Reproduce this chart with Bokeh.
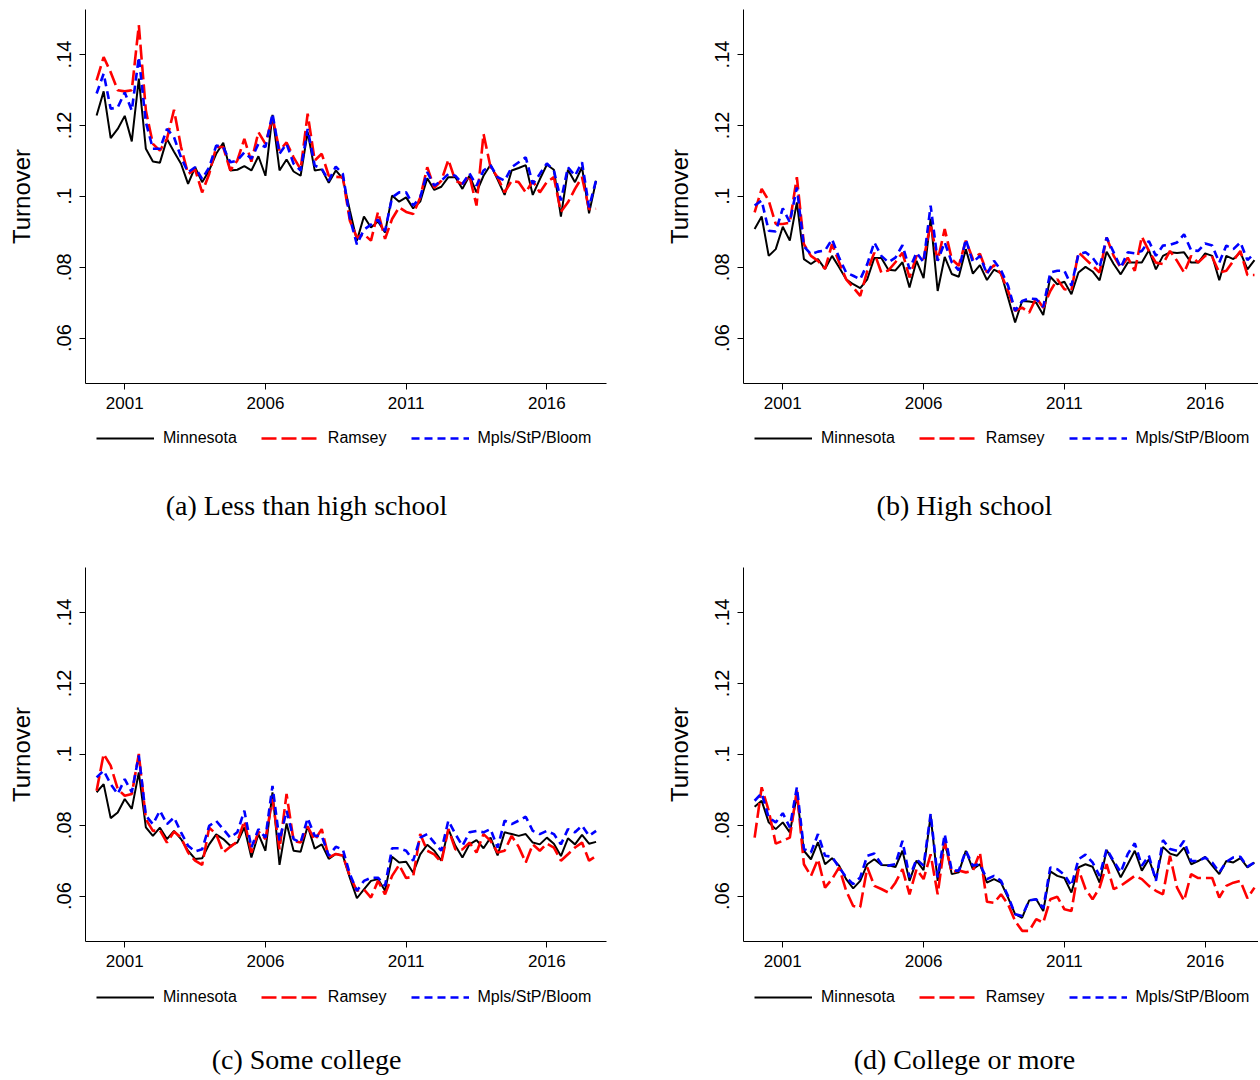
from bokeh.plotting import figure
from bokeh.models import FixedTicker, Legend, LegendItem, Label, Range1d
from bokeh.layouts import column, row
from bokeh.embed import file_html
from bokeh.resources import INLINE

# ---------------- data ----------------
YEARS = list(range(2000, 2018))
QUARTERS = [1, 2, 3, 4]
TIME = [y + (q - 1) / 4 for y in YEARS for q in QUARTERS]  # 2000q1 .. 2017q4

X_TICKS = [2001, 2006, 2011, 2016]
X_TICK_LABELS = ["2001", "2006", "2011", "2016"]
Y_TICKS = [0.06, 0.08, 0.10, 0.12, 0.14]
Y_TICK_LABELS = [".06", ".08", ".1", ".12", ".14"]

SERIES_NAMES = ["Minnesota", "Ramsey", "Mpls/StP/Bloom"]
CAPTIONS = ["(a) Less than high school", "(b) High school",
            "(c) Some college", "(d) College or more"]

lths_minnesota = [.1228, .1296, .1164, .1190, .1227, .1155, .1332, .1134, .1098, .1095, .1162, .1126,
                  .1092, .1035, .1082, .1040, .1073, .1120, .1151, .1073, .1075, .1085, .1073, .1113,
                  .1058, .1230, .1073, .1104, .1070, .1058, .1181, .1073, .1076, .1038, .1073, .1050,
                  .0960, .0875, .0943, .0912, .0929, .0898, .1002, .0985, .0997, .0966, .0985, .1051,
                  .1018, .1027, .1054, .1054, .1021, .1058, .1011, .1058, .1089, .1047, .1004, .1073,
                  .1080, .1088, .1004, .1048, .1089, .1075, .0943, .1075, .1040, .1082, .0952, .1044]
lths_ramsey = [.1327, .1393, .1350, .1299, .1296, .1299, .1483, .1242, .1148, .1129, .1162, .1244,
               .1139, .1063, .1076, .1011, .1063, .1139, .1139, .1073, .1101, .1162, .1098, .1181,
               .1148, .1223, .1129, .1152, .1110, .1076, .1233, .1101, .1120, .1058, .1055, .1054,
               .0931, .0884, .0893, .0875, .0956, .0880, .0936, .0969, .0956, .0950, .0997, .1082,
               .1024, .1044, .1103, .1044, .1035, .1058, .0974, .1176, .1082, .1054, .1011, .1044,
               .1040, .1011, .1044, .1011, .1040, .1054, .0956, .0983, .1021, .1054, .0964, .0965]
lths_msp = [.1290, .1346, .1247, .1251, .1293, .1242, .1393, .1209, .1134, .1134, .1190, .1167,
            .1110, .1068, .1082, .1049, .1082, .1143, .1139, .1096, .1101, .1124, .1106, .1148,
            .1139, .1233, .1120, .1148, .1092, .1073, .1190, .1087, .1078, .1044, .1084, .1063,
            .0939, .0864, .0906, .0920, .0934, .0902, .0997, .1011, .1011, .0974, .0997, .1068,
            .1030, .1044, .1063, .1058, .1035, .1065, .1030, .1073, .1087, .1054, .1044, .1082,
            .1096, .1110, .1035, .1063, .1093, .1073, .0988, .1082, .1058, .1096, .0969, .1046]

hs_minnesota = [.0908, .0943, .0832, .0851, .0914, .0875, .0983, .0823, .0809, .0823, .0795, .0832,
                .0800, .0766, .0752, .0741, .0766, .0826, .0826, .0793, .0791, .0814, .0743, .0818,
                .0769, .0937, .0733, .0829, .0781, .0773, .0851, .0782, .0806, .0764, .0793, .0783,
                .0714, .0644, .0705, .0703, .0700, .0665, .0773, .0752, .0759, .0724, .0785, .0801,
                .0788, .0763, .0844, .0809, .0780, .0813, .0813, .0813, .0848, .0794, .0832, .0842,
                .0840, .0842, .0813, .0813, .0839, .0832, .0763, .0832, .0823, .0842, .0794, .0820]
hs_ramsey = [.0955, .1021, .0988, .0922, .0922, .0926, .1054, .0865, .0832, .0818, .0795, .0865,
             .0814, .0766, .0743, .0719, .0789, .0841, .0785, .0791, .0814, .0841, .0771, .0832,
             .0823, .0922, .0818, .0908, .0823, .0804, .0875, .0823, .0838, .0785, .0806, .0781,
             .0733, .0677, .0686, .0672, .0714, .0686, .0733, .0766, .0738, .0735, .0842, .0823,
             .0804, .0785, .0884, .0832, .0799, .0827, .0790, .0886, .0846, .0813, .0809, .0846,
             .0818, .0785, .0832, .0813, .0832, .0829, .0785, .0790, .0818, .0846, .0778, .0778]
hs_msp = [.0974, .0988, .0903, .0901, .0966, .0927, .1025, .0859, .0837, .0844, .0847, .0879,
          .0827, .0785, .0776, .0766, .0809, .0870, .0832, .0814, .0827, .0862, .0795, .0841,
          .0814, .0974, .0818, .0870, .0814, .0791, .0879, .0814, .0832, .0781, .0818, .0791,
          .0748, .0677, .0705, .0712, .0710, .0688, .0785, .0790, .0790, .0748, .0837, .0842,
          .0827, .0799, .0884, .0842, .0799, .0842, .0839, .0846, .0874, .0832, .0861, .0863,
          .0870, .0893, .0848, .0846, .0867, .0861, .0813, .0861, .0851, .0870, .0820, .0839]

sc_minnesota = [.0893, .0916, .0820, .0836, .0874, .0846, .0949, .0794, .0770, .0793, .0761, .0784,
                .0761, .0728, .0705, .0707, .0746, .0774, .0761, .0742, .0751, .0794, .0709, .0775,
                .0728, .0893, .0688, .0805, .0728, .0725, .0798, .0734, .0746, .0705, .0719, .0715,
                .0651, .0594, .0619, .0643, .0648, .0615, .0711, .0695, .0697, .0666, .0718, .0745,
                .0728, .0700, .0789, .0742, .0709, .0746, .0758, .0735, .0765, .0715, .0780, .0775,
                .0770, .0775, .0751, .0746, .0765, .0748, .0713, .0763, .0746, .0773, .0748, .0753]
sc_ramsey = [.0897, .1001, .0968, .0902, .0883, .0888, .1001, .0817, .0784, .0786, .0751, .0782,
             .0765, .0723, .0700, .0688, .0793, .0775, .0723, .0739, .0754, .0812, .0723, .0782,
             .0761, .0874, .0732, .0888, .0756, .0751, .0796, .0758, .0789, .0709, .0719, .0714,
             .0657, .0615, .0619, .0596, .0643, .0605, .0657, .0688, .0651, .0655, .0775, .0728,
             .0718, .0695, .0789, .0732, .0732, .0751, .0723, .0775, .0756, .0723, .0728, .0770,
             .0739, .0695, .0746, .0728, .0748, .0737, .0700, .0718, .0737, .0751, .0700, .0713]
sc_msp = [.0935, .0954, .0916, .0888, .0930, .0893, .0997, .0827, .0803, .0841, .0803, .0822,
          .0780, .0742, .0726, .0732, .0798, .0812, .0789, .0765, .0780, .0841, .0737, .0789,
          .0765, .0911, .0756, .0841, .0761, .0751, .0820, .0770, .0770, .0714, .0739, .0732,
          .0662, .0615, .0643, .0652, .0652, .0629, .0735, .0735, .0728, .0700, .0765, .0775,
          .0751, .0728, .0813, .0775, .0742, .0780, .0784, .0780, .0789, .0737, .0813, .0803,
          .0813, .0824, .0784, .0775, .0784, .0775, .0746, .0789, .0780, .0799, .0770, .0784]

col_minnesota = [.0852, .0869, .0808, .0789, .0808, .0780, .0883, .0728, .0704, .0752, .0690, .0707,
                 .0686, .0648, .0622, .0643, .0690, .0704, .0688, .0687, .0682, .0728, .0643, .0700,
                 .0673, .0827, .0643, .0756, .0662, .0667, .0728, .0676, .0690, .0638, .0648, .0638,
                 .0596, .0549, .0539, .0588, .0591, .0558, .0670, .0657, .0651, .0610, .0681, .0690,
                 .0683, .0638, .0730, .0695, .0653, .0690, .0728, .0672, .0704, .0648, .0739, .0720,
                 .0714, .0737, .0690, .0699, .0711, .0686, .0662, .0699, .0695, .0707, .0681, .0695]
col_ramsey = [.0765, .0907, .0841, .0748, .0756, .0765, .0898, .0690, .0657, .0704, .0624, .0648,
              .0681, .0615, .0572, .0569, .0681, .0629, .0620, .0610, .0638, .0676, .0605, .0676,
              .0648, .0718, .0605, .0752, .0667, .0672, .0667, .0672, .0723, .0584, .0581, .0605,
              .0577, .0530, .0502, .0502, .0535, .0525, .0591, .0598, .0563, .0558, .0676, .0620,
              .0591, .0624, .0690, .0620, .0629, .0643, .0657, .0648, .0629, .0615, .0605, .0714,
              .0624, .0587, .0662, .0651, .0651, .0651, .0596, .0629, .0638, .0643, .0594, .0624]
col_msp = [.0869, .0890, .0822, .0808, .0834, .0794, .0907, .0733, .0723, .0775, .0714, .0711,
           .0681, .0653, .0634, .0653, .0714, .0720, .0690, .0686, .0690, .0756, .0653, .0704,
           .0686, .0832, .0653, .0775, .0672, .0672, .0728, .0686, .0690, .0648, .0657, .0643,
           .0600, .0549, .0544, .0588, .0591, .0566, .0681, .0676, .0660, .0629, .0704, .0717,
           .0695, .0657, .0733, .0699, .0667, .0719, .0749, .0686, .0714, .0643, .0758, .0733,
           .0728, .0756, .0699, .0699, .0709, .0695, .0667, .0697, .0709, .0711, .0683, .0695]

# ---------------- styling ----------------
SANS = "Liberation Sans"
SERIF = "Liberation Serif"
Y_MIN, Y_MAX = 0.0472, 0.1527
X_START = 1999.605
FRAME_H = 374
MAIN_H = 417          # 9 top border + 374 frame + 34 axis area
BORDER_TOP = 9
BORDER_LEFT = 85

STYLES = [dict(line_color="black", line_width=2),
          dict(line_color="#ff0000", line_width=2.6, line_dash="15 5"),
          dict(line_color="#0000ff", line_width=2.6, line_dash="8 5")]


def make_main(series, x_end, width, mb_right):
    p = figure(width=width, height=MAIN_H, output_backend="svg", toolbar_location=None,
               x_range=Range1d(X_START, x_end), y_range=Range1d(Y_MIN, Y_MAX),
               min_border_left=BORDER_LEFT, min_border_right=mb_right,
               min_border_top=BORDER_TOP, min_border_bottom=MAIN_H - BORDER_TOP - FRAME_H)
    p.outline_line_color = None
    p.xgrid.visible = False
    p.ygrid.visible = False
    p.background_fill_color = "white"
    p.border_fill_color = "white"

    for vals, st in zip(series, STYLES):
        p.line(TIME, vals, **st)

    xa = p.xaxis[0]
    xa.ticker = FixedTicker(ticks=X_TICKS)
    xa.major_label_overrides = dict(zip(X_TICKS, X_TICK_LABELS))
    xa.major_tick_out = 6
    xa.major_tick_in = 0
    xa.minor_tick_out = 0
    xa.minor_tick_in = 0
    xa.major_label_standoff = 7
    xa.major_label_text_font = SANS
    xa.major_label_text_font_size = "17px"
    xa.major_label_text_color = "black"
    xa.axis_line_color = "black"
    xa.major_tick_line_color = "black"

    ya = p.yaxis[0]
    ya.ticker = FixedTicker(ticks=Y_TICKS)
    ya.major_label_overrides = dict(zip(Y_TICKS, Y_TICK_LABELS))
    ya.major_label_orientation = "vertical"
    ya.major_tick_out = 6
    ya.major_tick_in = 0
    ya.minor_tick_out = 0
    ya.minor_tick_in = 0
    ya.major_label_standoff = 8
    ya.major_label_text_font = SANS
    ya.major_label_text_font_size = "20px"
    ya.major_label_text_color = "black"
    ya.axis_line_color = "black"
    ya.major_tick_line_color = "black"
    ya.axis_label = "Turnover"
    ya.axis_label_text_font = SANS
    ya.axis_label_text_font_size = "24px"
    ya.axis_label_text_font_style = "normal"
    ya.axis_label_text_color = "black"
    ya.axis_label_standoff = 20
    return p


def make_footer(series, caption, width, height, legend_y, caption_y):
    # the layout aligns this frame with the plot frame above it
    f = figure(width=width, height=height, output_backend="svg", toolbar_location=None,
               x_range=Range1d(0, 1), y_range=Range1d(0, 1),
               x_axis_location=None, y_axis_location=None,
               min_border_left=0, min_border_right=0, min_border_top=0, min_border_bottom=0)
    f.outline_line_color = None
    f.grid.visible = False
    f.background_fill_color = "white"
    f.border_fill_color = "white"

    # legend carriers: the same series, outside this (empty) frame's view
    carriers = [f.line(TIME, vals, **st) for vals, st in zip(series, STYLES)]
    legend = Legend(items=[LegendItem(label=name, renderers=[r])
                           for name, r in zip(SERIES_NAMES, carriers)],
                    orientation="horizontal", location=(11, legend_y),
                    glyph_width=58, glyph_height=20, label_standoff=9, spacing=24,
                    label_text_font=SANS, label_text_font_size="16px",
                    label_text_color="black",
                    border_line_color=None, background_fill_alpha=0,
                    padding=10, margin=0)
    f.add_layout(legend)

    cap = Label(x=221, y=caption_y, x_units="screen", y_units="screen", text=caption,
                text_align="center", text_baseline="middle",
                text_font=SERIF, text_font_size="28px", text_color="black")
    f.add_layout(cap)
    return f


WA, WB = 658, 600
TOP_FOOT, BOT_FOOT = 141, 101

sa = (lths_minnesota, lths_ramsey, lths_msp)
sb = (hs_minnesota, hs_ramsey, hs_msp)
sc = (sc_minnesota, sc_ramsey, sc_msp)
sd = (col_minnesota, col_ramsey, col_msp)

pa = make_main(sa, 2018.12, WA, WA - BORDER_LEFT - 521)
pb = make_main(sb, 2017.893, WB, 0)
pc = make_main(sc, 2018.12, WA, WA - BORDER_LEFT - 521)
pd = make_main(sd, 2017.893, WB, 0)

fa = make_footer(sa, CAPTIONS[0], WA, TOP_FOOT, 110, 53)
fb = make_footer(sb, CAPTIONS[1], WB, TOP_FOOT, 110, 53)
fc = make_footer(sc, CAPTIONS[2], WA, BOT_FOOT, 69, 17)
fd = make_footer(sd, CAPTIONS[3], WB, BOT_FOOT, 69, 17)

layout = column(row(column(pa, fa), column(pb, fb)),
                row(column(pc, fc), column(pd, fd)))

with open("out.html", "w") as f:
    f.write(file_html(layout, INLINE))
